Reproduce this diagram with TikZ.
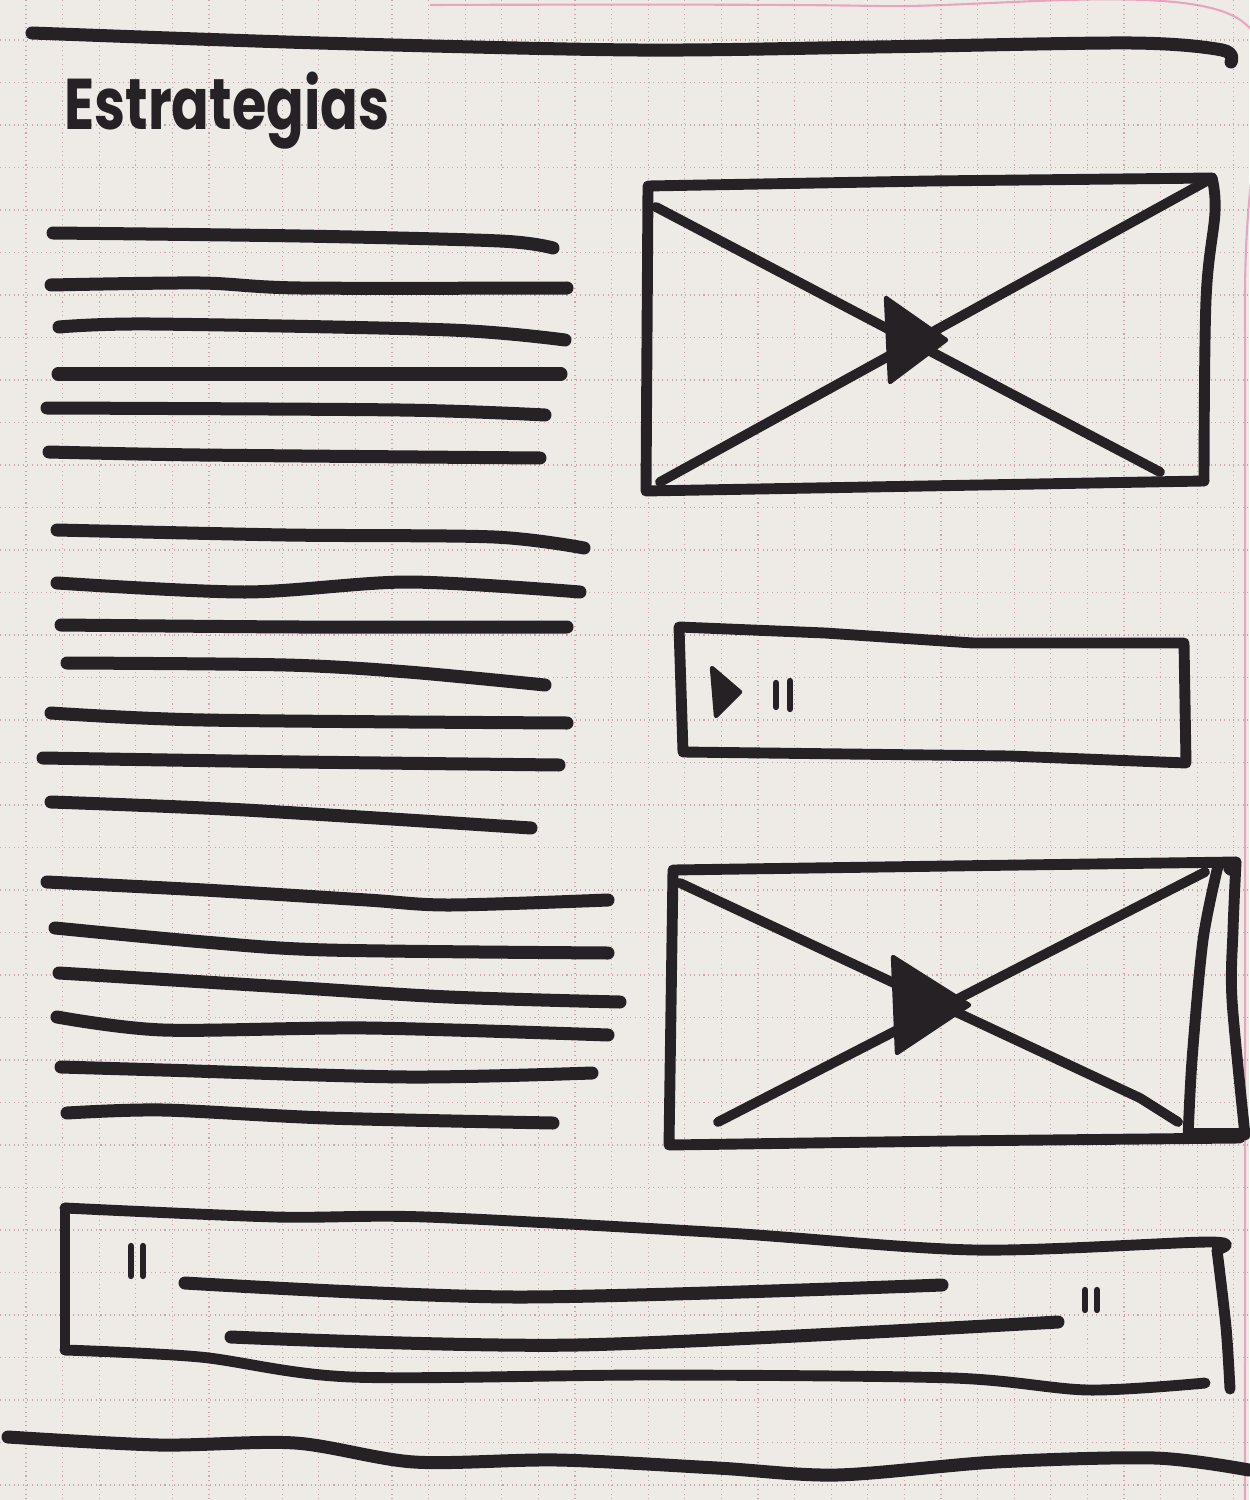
\documentclass[tikz,border=0pt]{standalone}
\usepackage{fontspec}
\usepackage{graphicx}
\newfontfamily\manofont{Poppins}
\definecolor{papel}{RGB}{238,235,231}
\definecolor{tinta}{RGB}{38,33,37}
\definecolor{cuadro}{RGB}{200,166,172}
\definecolor{canto}{RGB}{226,120,160}
\tikzset{
  renglon/.style={draw=tinta, line width=7.4pt, line cap=round, line join=round},
  marco/.style={draw=tinta, line width=6.2pt, line cap=round, line join=round},
  diagonal/.style={draw=tinta, line width=5.6pt, line cap=round},
  comilla/.style={draw=tinta, line width=3.6pt, line cap=round},
  rejilla/.style={draw=cuadro, dotted, line width=0.6pt},
}
\newcommand{\renglon}[1]{%
	\draw[renglon] plot[smooth, tension=0.5] coordinates {#1};
}
\newcommand{\video}[4]{%
	\fill[tinta, draw=tinta, line width=2.5pt, line join=round] (#1,#2) -- ++(#3,#4) -- ++(-#3+4,#4) -- cycle;
}

\begin{document}
\begin{tikzpicture}[x=0.02cm, y=-0.02cm]
        \fill[papel] (0,0) rectangle (1249,1500);
        \useasboundingbox (0,0) rectangle (1249,1500);
        % cuadricula
        \foreach \x in {0,...,33}{
                \draw[rejilla] ({26+36.6*\x},0) -- ({26+36.6*\x},1500);}
        \foreach \y in {-4,...,30}{
                \draw[rejilla] (0,{210+42.5*\y}) -- (1249,{210+42.5*\y});}
        \draw[canto, line width=1.2pt, opacity=0.6] plot[smooth] coordinates {(430,5) (876,6) (1243,22) (1245,300) (1245,1500)};
        % cabecera
        \renglon{(32,33) (319,43) (637,50) (876,47) (1131,43) (1222,50) (1231,62)}
        \node[anchor=base west, inner sep=0pt, text=tinta] (titulo) at (64,130)
                {\resizebox{6.5cm}{1.15cm}{\manofont\bfseries Estrategias}};
        % texto, primer bloque
        \renglon{(53,233) (300,236) (500,241) (553,248)}
        \renglon{(51,285) (200,283) (300,288) (567,288)}
        \renglon{(59,327) (150,324) (450,330) (565,340)}
        \renglon{(58,374) (300,374) (561,374)}
        \renglon{(47,408) (400,410) (545,415)}
        \renglon{(49,452) (200,455) (540,458)}
        % texto, segundo bloque
        \renglon{(57,530) (286,535) (494,537) (584,548)}
        \renglon{(57,583) (245,592) (408,582) (580,592)}
        \renglon{(61,625) (300,627) (567,627)}
        \renglon{(67,663) (286,665) (408,672) (545,685)}
        \renglon{(51,713) (204,720) (567,723)}
        \renglon{(43,758) (300,762) (559,765)}
        \renglon{(51,802) (245,810) (531,828)}
        % texto, tercer bloque
        \renglon{(47,882) (204,890) (367,900) (449,905) (608,900)}
        \renglon{(55,928) (204,942) (327,950) (608,953)}
        \renglon{(59,973) (286,987) (449,997) (620,1002)}
        \renglon{(57,1017) (163,1030) (367,1028) (608,1035)}
        \renglon{(61,1067) (163,1070) (408,1077) (592,1073)}
        \renglon{(67,1113) (163,1110) (327,1118) (553,1123)}
        % video de arriba
        \draw[marco] (1204,481) -- (925,486) -- (646,491) -- (648,186) -- (930,181) -- (1212,178);
        \draw[marco] plot[smooth, tension=0.6] coordinates {(1212,178) (1215,212) (1206,300) (1204,481)};
        \draw[diagonal] (656,207) -- (1160,472);
        \draw[diagonal] (660,482) -- (1205,182);
        \video{886}{298}{60}{42}
        % reproductor
        \draw[marco] (1186,763) -- (1010,756) -- (683,752) -- (679,627) -- (825,633) -- (973,643) -- (1184,643) -- cycle;
        \video{712}{668}{28}{24}
        \draw[comilla] (776,683) -- (776,707);
        \draw[comilla] (790,681) -- (790,709);
        % video de abajo
        \draw[marco] (1240,1138) -- (950,1141) -- (669,1145) -- (673,870) -- (950,866) -- (1236,862);
        \draw[marco] plot[smooth, tension=0.5] coordinates {(1236,862) (1233,930) (1232,1000) (1245,1135)};
        \draw[marco] plot[smooth, tension=0.5] coordinates {(1218,866) (1203,940) (1192,1060) (1188,1138)};
        \draw[marco] (1190,1133) -- (1240,1133);
        \fill[tinta] (1232,867) circle (9);
        \draw[diagonal] (680,883) -- (1140,1098) -- (1178,1122);
        \draw[diagonal] (718,1122) -- (1205,872);
        \video{893}{957}{76}{48}
        % cita
        \draw[marco] plot[smooth, tension=0.5] coordinates {(65,1208) (276,1217) (426,1217) (727,1233) (975,1250) (1209,1242) (1217,1250)};
        \draw[marco] plot[smooth, tension=0.5] coordinates {(1217,1250) (1226,1327) (1230,1389)};
        \draw[marco] (65,1208) -- (65,1350);
        \draw[marco] plot[smooth, tension=0.5] coordinates {(65,1350) (200,1357) (351,1377) (652,1375) (953,1378) (1088,1390) (1205,1383)};
        \draw[comilla] (131,1246) -- (131,1276);
        \draw[comilla] (143,1246) -- (143,1276);
        \renglon{(185,1283) (516,1297) (942,1285)}
        \draw[comilla] (1085,1290) -- (1085,1310);
        \draw[comilla] (1097,1290) -- (1097,1310);
        \renglon{(231,1337) (577,1345) (1058,1322)}
        % pie
        \renglon{(8,1437) (159,1445) (295,1443) (414,1462) (558,1460) (717,1468) (837,1475) (996,1462) (1155,1458) (1249,1470)}
    \end{tikzpicture}
\end{document}
